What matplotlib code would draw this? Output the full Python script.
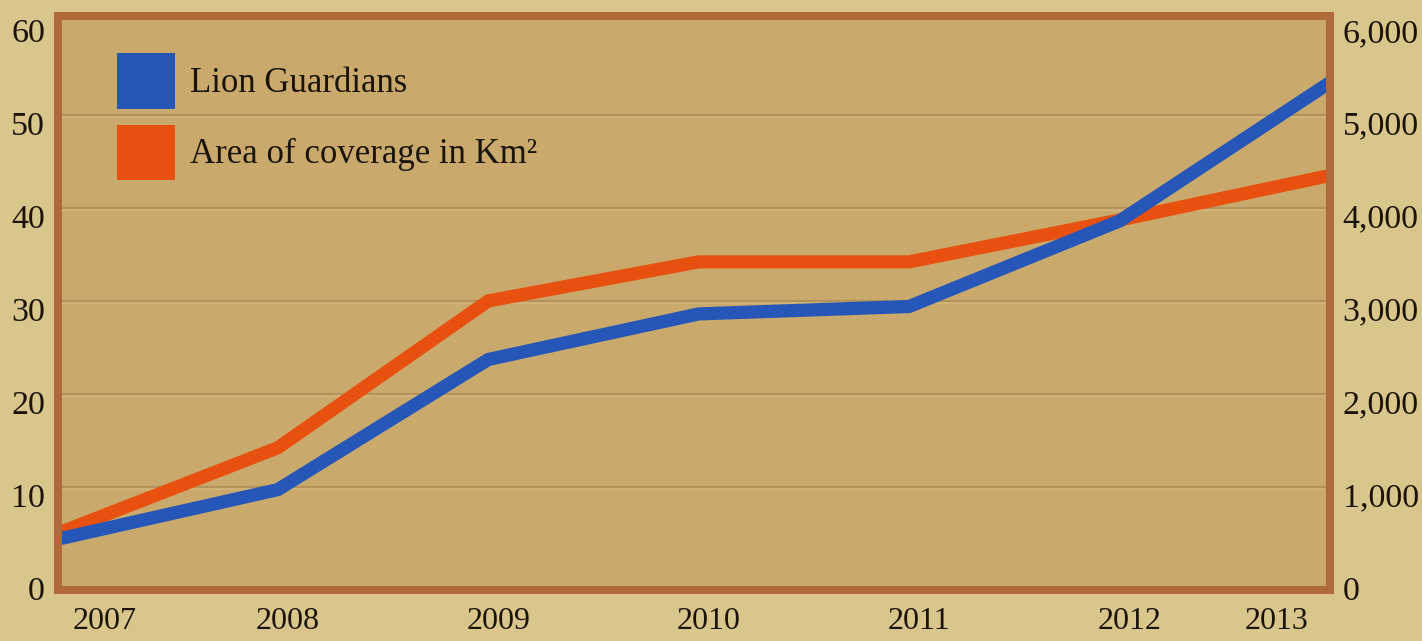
import matplotlib
matplotlib.use("Agg")
import matplotlib.pyplot as plt
from matplotlib.patches import Patch, Rectangle
from matplotlib.transforms import ScaledTranslation
import matplotlib.patheffects as pe

# ---- data ----
years = ["2007", "2008", "2009", "2010", "2011", "2012", "2013"]
lion_guardians = [4.6, 9.7, 23.7, 28.6, 29.4, 38.6, 53.5]
area_km2 = [540, 1420, 3000, 3420, 3420, 3870, 4350]
left_ticks = [0, 10, 20, 30, 40, 50, 60]
right_ticks = [0, 1000, 2000, 3000, 4000, 5000, 6000]
right_tick_labels = ["0", "1,000", "2,000", "3,000", "4,000", "5,000", "6,000"]
legend_labels = ["Lion Guardians", "Area of coverage in Km\u00b2"]

# ---- style ----
fig_bg = "#d9c68d"
plot_bg = "#c9aa6c"
border = "#b0693a"
blue = "#2556b8"
orange = "#e8500f"
grid_c = "#b3925c"
text_c = "#1c140a"

plt.rcParams["font.family"] = ["Liberation Serif", "DejaVu Serif"]

fig = plt.figure(figsize=(14.22, 6.41), dpi=100, facecolor=fig_bg)
W, H = 1422, 641
left_px, right_px, top_px, bot_px = 57.5, 1330, 16, 590
ax2 = fig.add_axes([left_px / W, 1 - bot_px / H, (right_px - left_px) / W, (bot_px - top_px) / H])
ax = ax2.twinx()
ax.set_zorder(ax2.get_zorder() + 1)
ax.patch.set_visible(False)
ax2.set_facecolor(plot_bg)

x = list(range(len(years)))
ylim_left = (-1.1, 60.65)
ax.set_ylim(*ylim_left)
ax2.set_ylim(ylim_left[0] * 100, ylim_left[1] * 100)
ax2.set_xlim(-0.047, 5.972)
ax.set_xlim(-0.047, 5.972)

# gridlines (on right axis, under lines)
ax2.hlines(right_ticks[1:-1], -0.1, 6.1, colors=grid_c, linewidth=1.6, zorder=1,
           path_effects=[pe.Stroke(offset=(0, -1.6), linewidth=1.2, foreground="#d6b87e"), pe.Normal()])

ax2.plot(x, area_km2, color=orange, linewidth=9.5, solid_joinstyle="miter", zorder=2)
ax.plot(x, lion_guardians, color=blue, linewidth=9.5, solid_joinstyle="miter", zorder=2)

for a in (ax, ax2):
    for s in a.spines.values():
        s.set_visible(False)

ax.add_patch(Rectangle((0, 0), 1, 1, transform=ax.transAxes, fill=False,
                       edgecolor=border, linewidth=5.8, clip_on=False, zorder=5,
                       joinstyle="miter"))

# ticks
ax.set_yticks(left_ticks)
ax.set_yticklabels([str(v) for v in left_ticks])
ax2.set_yticks(right_ticks)
ax2.set_yticklabels(right_tick_labels)
ax.yaxis.tick_left()
ax2.yaxis.tick_right()
ax.tick_params(axis="y", which="both", length=0, pad=9, labelsize=24.5, labelcolor=text_c,
               left=False, right=False, labelleft=True, labelright=False)
ax2.tick_params(axis="y", which="both", length=0, pad=9, labelsize=24.5, labelcolor=text_c,
                left=False, right=False, labelleft=False, labelright=True)
ax2.set_xticks(x)
ax2.set_xticklabels(years)
ax2.tick_params(axis="x", length=0, pad=12, labelsize=23, labelcolor=text_c)
ax.tick_params(axis="x", length=0, labelbottom=False, bottom=False)

for a in (ax, ax2):
    for lab in a.get_yticklabels():
        lab.set_transform(lab.get_transform() + ScaledTranslation(0, -8 / 100, fig.dpi_scale_trans))

xl = ax2.get_xticklabels()
for i, lab in enumerate(xl):
    if i == 0:
        lab.set_ha("left"); dx = 5
    elif i == len(xl) - 1:
        lab.set_ha("right"); dx = -21
    else:
        dx = 10
    lab.set_transform(lab.get_transform() + ScaledTranslation(dx / 100, 0, fig.dpi_scale_trans))

# legend
handles = [Patch(facecolor=blue, edgecolor="none"), Patch(facecolor=orange, edgecolor="none")]
ax.legend(handles, legend_labels, loc="upper left",
          bbox_to_anchor=((117 - left_px) / (right_px - left_px), 1 - (53 - top_px) / (bot_px - top_px)),
          frameon=False, fontsize=25, handlelength=1.67, handleheight=2.1,
          labelspacing=0.45, handletextpad=0.42, borderpad=0, borderaxespad=0,
          labelcolor=text_c)

fig.savefig("out.png", dpi=100, facecolor=fig_bg)
